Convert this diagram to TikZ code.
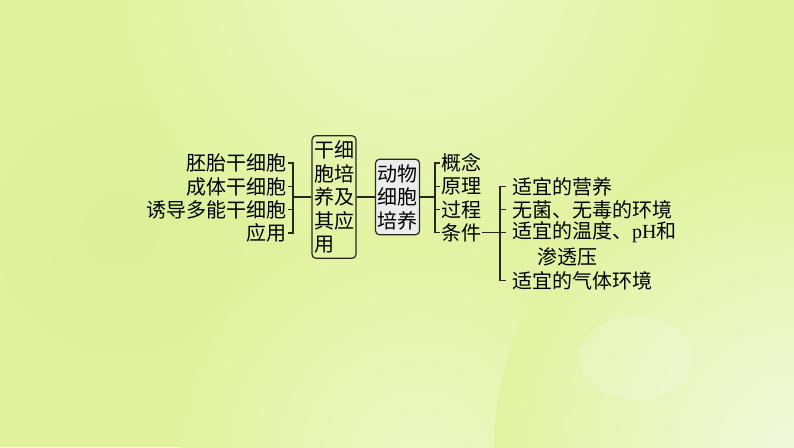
\documentclass[tikz,border=0pt]{standalone}
\usepackage{fontspec}
\setmainfont{Liberation Serif}
\newfontfamily\cjk{Noto Sans CJK SC}
\usepackage{tikz}

\definecolor{bgbase}{RGB}{226,243,160}
\definecolor{bglight}{RGB}{236,248,196}
\definecolor{bgpale}{RGB}{240,249,220}
\definecolor{bgdeep}{RGB}{220,239,152}
\definecolor{boxgray}{RGB}{236,236,236}
\definecolor{linkcol}{RGB}{40,40,30}

\begin{document}
\begin{tikzpicture}[x=1pt, y=-1pt,
    leaf/.style={font=\cjk\fontsize{20}{23.5}\selectfont, inner sep=1pt},
    subleaf/.style={leaf, inner xsep=6pt, anchor=west},
    topicbox/.style={draw=linkcol, line width=1.2pt, rounded corners=4pt, align=left,
        font=\cjk\fontsize{20}{23.5}\selectfont, inner xsep=2pt, inner ysep=5pt},
    link/.style={draw=linkcol, line width=1.2pt}]
            % Background
            \useasboundingbox (0,0) rectangle (794,447);
            \begin{scope}
            \clip (0,0) rectangle (794,447);
            \fill[bgbase] (0,0) rectangle (794,447);
            \shade[inner color=bgdeep, outer color=bgbase] (120,230) circle [radius=200pt];
            \shade[inner color=bglight, outer color=bgbase] (420,-30) circle [radius=300pt];
            \shade[inner color=bglight, outer color=bgbase] (420,460) circle [radius=240pt];
            \shade[inner color=bgpale, outer color=bgbase] (794,447) circle [radius=300pt];
            \fill[white, opacity=0.18] (636,358) ellipse [x radius=56pt, y radius=42pt];
            \end{scope}

            % Nodes
            \node[leaf, anchor=east] (peitai) at (288,163) {胚胎干细胞};
            \node[leaf, anchor=east] (chengti) at (288,186.5) {成体干细胞};
            \node[leaf, anchor=east] (youdao) at (288,209.5) {诱导多能干细胞};
            \node[leaf, anchor=east] (yingyong) at (288,233) {应用};
            \node[topicbox] (ganxibao) at (334,197) {干细\\胞培\\养及\\其应\\用};
            \node[topicbox, fill=boxgray] (dongwu) at (397.5,197) {动物\\细胞\\培养};
            \node[leaf, anchor=west] (gainian) at (440,163) {概念};
            \node[leaf, anchor=west] (yuanli) at (440,186.5) {原理};
            \node[leaf, anchor=west] (guocheng) at (440,209.5) {过程};
            \node[leaf, anchor=west] (tiaojian) at (440,232.5) {条件};
            \node[subleaf] (yingyang) at (506,186.5) {适宜的营养};
            \node[subleaf] (wujun) at (506,209.5) {无菌、无毒的环境};
            \node[subleaf] (wendu) at (506,232.5) {适宜的温度、\textrm{pH}和};
            \node[subleaf] (shentou) at (531,256.5) {渗透压};
            \node[subleaf] (qiti) at (506,280.5) {适宜的气体环境};

            % Bracket joints
            \coordinate (lb) at (293,197);
            \coordinate (rb) at (435,197);
            \coordinate (cb) at (500,232.5);

            % Edges
            \draw[link] (peitai.east) -| (lb);
            \draw[link] (yingyong.east) -| (lb);
            \draw[link] (chengti.east) -- (chengti.east -| lb);
            \draw[link] (youdao.east) -- (youdao.east -| lb);
            \draw[link] (lb) -- (ganxibao.west);
            \draw[link] (ganxibao.east) -- (dongwu.west);
            \draw[link] (dongwu.east) -- (rb);
            \draw[link] (gainian.west) -| (rb);
            \draw[link] (tiaojian.west) -| (rb);
            \draw[link] (yuanli.west) -- (yuanli.west -| rb);
            \draw[link] (guocheng.west) -- (guocheng.west -| rb);
            \draw[link] (tiaojian.east) -- (cb);
            \draw[link] (yingyang.west) -| (cb);
            \draw[link] (qiti.west) -| (cb);
            \draw[link] (cb) -- (wendu.west);
            \draw[link] (wujun.west) -- (wujun.west -| cb);
        \end{tikzpicture}
\end{document}
